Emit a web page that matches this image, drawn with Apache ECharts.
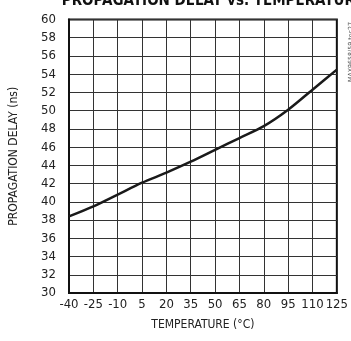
<!DOCTYPE html>
<html>
<head>
  <meta charset="utf-8">
  <script src="https://cdn.jsdelivr.net/npm/echarts@6/dist/echarts.min.js"></script>
  <style>
    html, body { margin: 0; padding: 0; background: #fff; }
    #chart { width: 351px; height: 341px; }
  </style>
</head>
<body>
  <div id="chart"></div>
  <script>
    // temperature steps (°C) and propagation delay (ns)
    var temps = ['-40', '-25', '-10', '5', '20', '35', '50', '65', '80', '95', '110', '125'];
    var delay = [38.4, 39.5, 40.8, 42.1, 43.2, 44.4, 45.7, 47.0, 48.3, 50.1, 52.3, 54.5];

    var font = '"DejaVu Sans Condensed", "Liberation Sans Narrow", sans-serif';
    var chart = echarts.init(document.getElementById('chart'));

    var option = {
      animation: false,
      backgroundColor: '#fff',
      title: {
        text: 'PROPAGATION DELAY vs. TEMPERATURE',
        left: 208,
        textAlign: 'center',
        top: -11,
        textStyle: { fontFamily: font, fontSize: 15, fontWeight: 'bold', color: '#111' }
      },
      grid: {
        left: 69, right: 8, top: 19.5, bottom: 48,
        show: true, borderColor: '#111', borderWidth: 2
      },
      xAxis: {
        type: 'category',
        data: temps,
        boundaryGap: false,
        name: 'TEMPERATURE (°C)',
        nameLocation: 'middle',
        nameGap: 26,
        nameTextStyle: { fontFamily: font, fontSize: 12, color: '#222' },
        axisLine: { lineStyle: { color: '#111', width: 2 } },
        axisTick: { show: false },
        axisLabel: { fontFamily: font, fontSize: 13, color: '#222', margin: 5, interval: 0 },
        splitLine: { show: true, lineStyle: { color: '#333', width: 1 } }
      },
      yAxis: {
        type: 'value',
        min: 30, max: 60, interval: 2,
        name: 'PROPAGATION DELAY (ns)',
        nameLocation: 'middle',
        nameGap: 49,
        nameTextStyle: { fontFamily: font, fontSize: 12, color: '#222' },
        axisLine: { show: true, lineStyle: { color: '#111', width: 2 } },
        axisTick: { show: false },
        axisLabel: { fontFamily: font, fontSize: 13, color: '#222', margin: 13 },
        splitLine: { lineStyle: { color: '#333', width: 1 } }
      },
      graphic: [{
        type: 'text',
        x: 348, y: 82,
        rotation: Math.PI / 2,
        style: { text: 'MAX9658/59 toc27', fontFamily: font, fontSize: 7, fill: '#555' }
      }],
      series: [{
        type: 'line',
        data: delay,
        smooth: 0.3,
        symbol: 'none',
        lineStyle: { color: '#1a1a1a', width: 2.5 }
      }]
    };

    chart.setOption(option);
  </script>
</body>
</html>
